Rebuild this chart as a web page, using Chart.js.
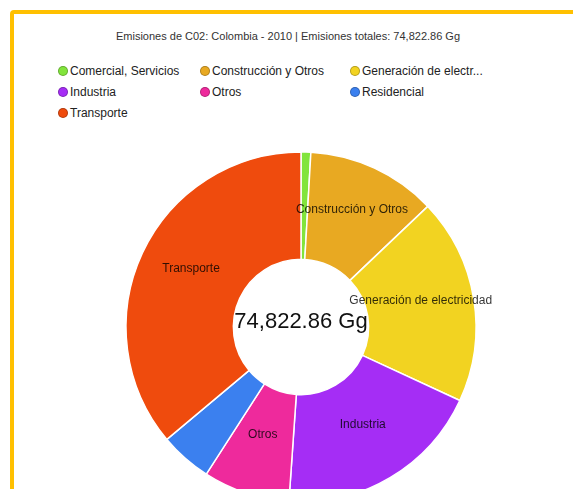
<!DOCTYPE html>
<html>
<head>
<meta charset="utf-8">
<script src="https://cdn.jsdelivr.net/npm/chart.js@4/dist/chart.umd.min.js"></script>
<style>
  html, body {
    margin: 0;
    padding: 0;
    width: 573px;
    height: 489px;
    overflow: hidden;
    background: #fff;
    font-family: "Liberation Sans", Arial, sans-serif;
  }
  .frame {
    position: absolute;
    left: 10px;
    top: 10px;
    width: 720px;
    height: 600px;
    border: 4px solid #ffc000;
    border-radius: 4px;
    box-sizing: border-box;
  }
  .title {
    position: absolute;
    left: 0;
    width: 576px;
    top: 30px;
    text-align: center;
    font-size: 11px;
    color: #333;
  }
  .legend {
    position: absolute;
    left: 58px;
    top: 60px;
    display: grid;
    grid-template-columns: 142px 150px 160px;
    grid-auto-rows: 21px;
    font-size: 12px;
    color: #222;
  }
  .legend-item {
    display: flex;
    align-items: center;
    white-space: nowrap;
  }
  .legend-dot {
    width: 10px;
    height: 10px;
    border-radius: 50%;
    margin-right: 2px;
    box-sizing: border-box;
    border: 1px solid rgba(0, 0, 0, 0.25);
  }
  #emisionesChart {
    position: absolute;
    left: 101px;
    top: 127px;
  }
</style>
</head>
<body>
<div class="frame"></div>
<div class="title" id="chartTitle"></div>
<div class="legend" id="chartLegend"></div>
<canvas id="emisionesChart" width="400" height="400"></canvas>

<script>
const chartTitle = "Emisiones de C02: Colombia - 2010 | Emisiones totales: 74,822.86 Gg";
const centerText = "74,822.86 Gg";

const sectores = [
  "Comercial, Servicios",
  "Construcción y Otros",
  "Generación de electricidad",
  "Industria",
  "Otros",
  "Residencial",
  "Transporte"
];

// Gg CO2 por sector
const emisiones = [673, 8979, 14216, 14366, 5986, 3591, 27011];

const colores = ["#82e43c", "#e8a922", "#f2d321", "#a52df5", "#ee2a9c", "#3b80ef", "#ef4b0d"];

// sectores con etiqueta sobre la porción
const etiquetados = [false, true, true, true, true, false, true];

function shortLabel(text) {
  return text.length > 20 ? `${text.slice(0, 20)}...` : text;
}

function renderLegend() {
  const legend = document.getElementById("chartLegend");
  legend.innerHTML = sectores.map((sector, i) => `
    <div class="legend-item">
      <span class="legend-dot" style="background:${colores[i]}"></span>${shortLabel(sector)}
    </div>
  `).join("");
}

const sliceLabels = {
  id: "sliceLabels",
  afterDatasetsDraw(chart) {
    const ctx = chart.ctx;
    const meta = chart.getDatasetMeta(0);
    ctx.save();
    ctx.font = '12px "Liberation Sans", Arial, sans-serif';
    ctx.fillStyle = "rgba(0, 0, 0, 0.8)";
    ctx.textAlign = "center";
    ctx.textBaseline = "middle";
    meta.data.forEach((arc, i) => {
      if (!etiquetados[i]) {
        return;
      }
      const pos = arc.tooltipPosition();
      ctx.fillText(sectores[i], pos.x, pos.y - 7);
    });

    const area = chart.chartArea;
    ctx.font = '22px "Liberation Sans", Arial, sans-serif';
    ctx.fillStyle = "#111";
    ctx.fillText(centerText, (area.left + area.right) / 2, (area.top + area.bottom) / 2 - 5);
    ctx.restore();
  }
};

function initChart() {
  document.getElementById("chartTitle").textContent = chartTitle;
  renderLegend();

  new Chart(document.getElementById("emisionesChart"), {
    type: "doughnut",
    data: {
      labels: sectores,
      datasets: [
        {
          data: emisiones,
          backgroundColor: colores,
          borderColor: "#ffffff",
          borderWidth: 1.5
        }
      ]
    },
    options: {
      responsive: false,
      animation: false,
      radius: 175,
      cutout: 77,
      layout: { padding: 0 },
      plugins: {
        legend: { display: false },
        title: { display: false },
        tooltip: { enabled: false }
      }
    },
    plugins: [sliceLabels]
  });
}

initChart();
</script>
</body>
</html>
